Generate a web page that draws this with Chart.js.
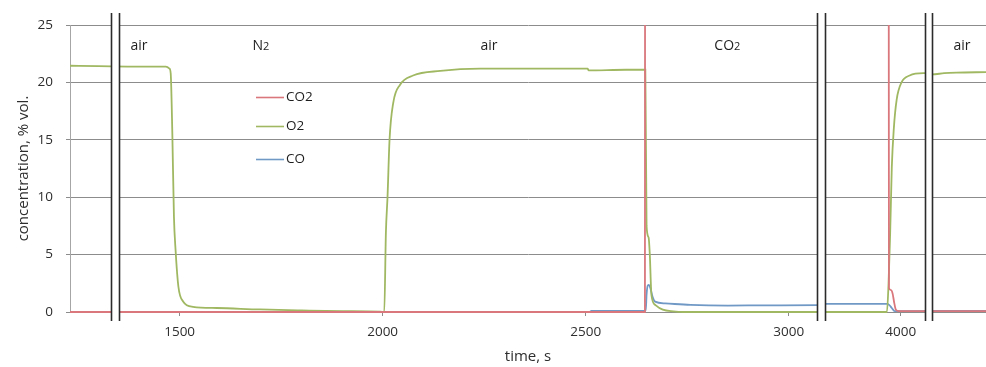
<!DOCTYPE html>
<html>
<head>
<meta charset="utf-8">
<script src="https://cdn.jsdelivr.net/npm/chart.js@4.4.1/dist/chart.umd.min.js"></script>
<style>
  html, body { margin: 0; padding: 0; background: #fff; }
  #wrap { width: 986px; height: 367px; }
</style>
</head>
<body>
<div id="wrap"><canvas id="chart" width="986" height="367"></canvas></div>
<script>
// Concentrations vs time (s)
const o2Time = [1230, 1300, 1400, 1466, 1475, 1478, 1482, 1486, 1490, 1497, 1509, 1533, 1592, 1698, 1800, 1900, 1994, 2004, 2008, 2012, 2017, 2026, 2043, 2075, 2142, 2240, 2363, 2505, 2507, 2600, 2647, 2650, 2655, 2658, 2662, 2672, 2690, 2716, 2740, 3071, 3813, 3966, 3970, 3974, 3978, 3983, 3990, 4002, 4022, 4056, 4059, 4300, 4330, 4360, 4433];
const o2Values = [21.45, 21.42, 21.38, 21.38, 21.2, 20.8, 15.6, 8.3, 5.4, 2.2, 0.9, 0.45, 0.35, 0.22, 0.14, 0.08, 0.04, 0, 6.9, 10, 15, 18.2, 19.8, 20.6, 21.0, 21.2, 21.2, 21.2, 21.05, 21.1, 21.1, 7.5, 6.5, 5.0, 1.5, 0.6, 0.2, 0.05, 0, 0, 0, 0, 2.5, 6.9, 12.6, 16.0, 18.5, 20.0, 20.6, 20.8, 20.8, 20.7, 20.8, 20.85, 20.9];

const co2Time = [1230, 2646, 2647, 3071, 3813, 3969, 3971, 3976, 3980, 3984, 3988, 3995, 4059, 4300, 4433];
const co2Values = [0, 0, 100, 100, 100, 100, 2.1, 1.9, 1.6, 0.8, 0.2, 0.08, 0.08, 0.08, 0.08];

const coTime = [1230, 2510, 2514, 2648, 2650, 2653, 2656, 2660, 2665, 2671, 2696, 2758, 2850, 2950, 3071, 3813, 3966, 3972, 3978, 3985, 4059, 4300, 4433];
const coValues = [0, 0, 0.1, 0.1, 1.5, 2.3, 2.35, 2.0, 1.3, 0.9, 0.75, 0.62, 0.56, 0.58, 0.6, 0.7, 0.7, 0.6, 0.35, 0.08, 0.08, 0.1, 0.1];

const seriesNames = ['CO2', 'O2', 'CO'];
const seriesColors = ['#d9777c', '#a0b862', '#7199c6'];

const xTickTimes = [1500, 2000, 2500, 3000, 4000];
const yMin = 0, yMax = 25, yStep = 5;

// time ranges shown on the broken axis
const axisSegments = [[1230, 3071], [3813, 4059], [4300, 4433]];
const breakGap = 18;              // axis units taken by each break mark
const extraBreak = [1332, 1350];  // break mark drawn over the first part

// phase labels: text, subscript, time, height
const phaseText = ['air', 'N', 'air', 'CO', 'air'];
const phaseSub = ['', '2', '', '2', ''];
const phaseTime = [1400, 1700, 2262, 2849, 4374];
const phaseLevel = 23.2;

// time -> position on the compressed axis
const segStart = [];
axisSegments.forEach((s, i) => {
  if (i === 0) segStart.push(s[0]);
  else {
    const p = axisSegments[i - 1];
    segStart.push(segStart[i - 1] + (p[1] - p[0]) + breakGap);
  }
});
function toAxis(t) {
  for (let i = axisSegments.length - 1; i >= 0; i--) {
    if (t >= axisSegments[i][0]) return segStart[i] + (t - axisSegments[i][0]);
  }
  return t;
}
function points(times, values) {
  return times.map((t, i) => ({ x: toAxis(t), y: values[i] }));
}

Chart.defaults.font.family = "'Open Sans', sans-serif";
Chart.defaults.color = '#2e2e2e';

const breakPlugin = {
  id: 'breaks',
  afterDatasetsDraw(chart) {
    const { ctx, chartArea } = chart;
    const xs = chart.scales.x;
    const bands = [[toAxis(extraBreak[0]), toAxis(extraBreak[1])]];
    for (let i = 0; i < axisSegments.length - 1; i++) {
      bands.push([toAxis(axisSegments[i][1]), segStart[i + 1]]);
    }
    const top = chartArea.top - 12, bottom = chartArea.bottom + 9;
    ctx.save();
    bands.forEach(b => {
      const x1 = Math.round(xs.getPixelForValue(b[0])) + 0.5;
      const x2 = Math.round(xs.getPixelForValue(b[1])) + 0.5;
      ctx.fillStyle = '#fff';
      ctx.fillRect(x1, top, x2 - x1, bottom - top);
      ctx.strokeStyle = '#2b2b2b';
      ctx.lineWidth = 1.6;
      ctx.beginPath();
      ctx.moveTo(x1, top); ctx.lineTo(x1, bottom);
      ctx.moveTo(x2, top); ctx.lineTo(x2, bottom);
      ctx.stroke();
    });
    ctx.restore();
  },
  afterDraw(chart) {
    const { ctx, chartArea } = chart;
    const xs = chart.scales.x, ys = chart.scales.y;
    ctx.save();
    // phase labels
    ctx.fillStyle = '#1e1e1e';
    ctx.textBaseline = 'middle';
    phaseText.forEach((txt, i) => {
      ctx.font = "14px 'Open Sans', sans-serif";
      const w1 = ctx.measureText(txt).width;
      ctx.font = "11px 'Open Sans', sans-serif";
      const w2 = phaseSub[i] ? ctx.measureText(phaseSub[i]).width : 0;
      const cx = xs.getPixelForValue(toAxis(phaseTime[i]));
      const cy = ys.getPixelForValue(phaseLevel);
      const x = cx - (w1 + w2) / 2;
      ctx.textAlign = 'left';
      ctx.font = "14px 'Open Sans', sans-serif";
      ctx.fillText(txt, x, cy);
      if (phaseSub[i]) {
        ctx.font = "11px 'Open Sans', sans-serif";
        ctx.fillText(phaseSub[i], x + w1, cy + 1.5);
      }
    });
    // legend
    const lx = chartArea.left + 186;
    const rows = [72, 101, 134];
    chart.data.datasets.forEach((ds, i) => {
      const y = chartArea.top + rows[i] + 0.5;
      ctx.strokeStyle = ds.borderColor;
      ctx.lineWidth = 1.6;
      ctx.beginPath();
      ctx.moveTo(lx, y); ctx.lineTo(lx + 28, y);
      ctx.stroke();
      ctx.font = "13.5px 'Open Sans', sans-serif";
      ctx.fillStyle = '#1e1e1e';
      ctx.textAlign = 'left';
      ctx.fillText(ds.label, lx + 30, y);
    });
    ctx.restore();
  }
};

new Chart(document.getElementById('chart'), {
  type: 'line',
  data: {
    datasets: [
      { label: seriesNames[0], data: points(co2Time, co2Values), borderColor: seriesColors[0] },
      { label: seriesNames[1], data: points(o2Time, o2Values), borderColor: seriesColors[1] },
      { label: seriesNames[2], data: points(coTime, coValues), borderColor: seriesColors[2] }
    ]
  },
  options: {
    responsive: false,
    animation: false,
    devicePixelRatio: 1,
    datasets: {
      line: {
        borderWidth: 1.8, pointRadius: 0, cubicInterpolationMode: 'monotone',
        clip: { left: 0, top: 0, right: 0, bottom: 3 }
      }
    },
    layout: { padding: { top: 25, right: 0, left: 0, bottom: 0 } },
    plugins: { legend: { display: false }, tooltip: { enabled: false } },
    scales: {
      x: {
        type: 'linear',
        min: toAxis(axisSegments[0][0]),
        max: toAxis(axisSegments[axisSegments.length - 1][1]),
        afterBuildTicks(scale) {
          scale.ticks = xTickTimes.map(t => ({ value: toAxis(t) }));
        },
        afterFit(scale) { scale.height = 55; },
        ticks: {
          font: { size: 13.5 },
          padding: 8,
          maxRotation: 0,
          callback(v) {
            const t = xTickTimes.find(tt => toAxis(tt) === v);
            return t === undefined ? '' : String(t);
          }
        },
        grid: { display: true, drawOnChartArea: false, tickLength: 4, color: '#8c8c8c' },
        border: { color: '#8c8c8c' },
        title: { display: true, text: 'time, s', font: { size: 15 }, padding: { top: 0, bottom: 1 } }
      },
      y: {
        min: yMin,
        max: yMax,
        afterFit(scale) { scale.width = 70; },
        ticks: { stepSize: yStep, font: { size: 13.5 }, padding: 13 },
        grid: { color: '#8c8c8c', tickLength: 4 },
        border: { color: '#a6a6a6' },
        title: { display: true, text: 'concentration, % vol.', font: { size: 15 }, padding: { top: 15, bottom: 0 } }
      }
    }
  },
  plugins: [breakPlugin]
});
</script>
</body>
</html>
